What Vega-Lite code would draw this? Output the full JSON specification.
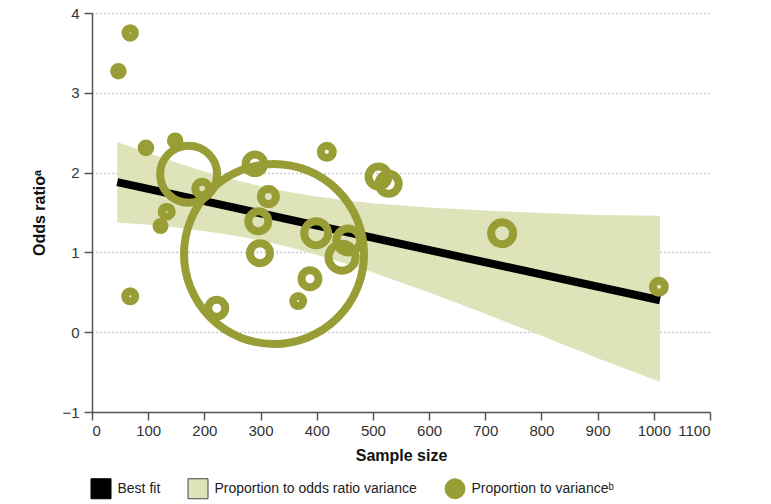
{
  "$schema": "https://vega.github.io/schema/vega-lite/v6.json",
  "width": 618,
  "height": 399,
  "autosize": "none",
  "padding": {"left": 92, "top": 13, "right": 61, "bottom": 92},
  "background": "white",
  "config": {
    "view": {"stroke": null},
    "font": "Liberation Sans",
    "axis": {
      "labelFont": "Liberation Sans",
      "labelFontSize": 15,
      "labelColor": "#333",
      "titleFont": "Liberation Sans",
      "titleFontSize": 16,
      "titleFontWeight": "bold",
      "titleColor": "#111",
      "domainColor": "#555",
      "domainWidth": 1.5,
      "tickColor": "#555",
      "tickWidth": 1.5,
      "tickSize": 8
    }
  },
  "datasets": {
    "band": [
      {"n": 45, "upper": 2.384, "lower": 1.376},
      {"n": 100, "upper": 2.245, "lower": 1.345},
      {"n": 150, "upper": 2.126, "lower": 1.311},
      {"n": 200, "upper": 2.015, "lower": 1.268},
      {"n": 250, "upper": 1.916, "lower": 1.214},
      {"n": 300, "upper": 1.83, "lower": 1.148},
      {"n": 350, "upper": 1.757, "lower": 1.067},
      {"n": 400, "upper": 1.7, "lower": 0.972},
      {"n": 450, "upper": 1.653, "lower": 0.865},
      {"n": 500, "upper": 1.617, "lower": 0.749},
      {"n": 600, "upper": 1.563, "lower": 0.497},
      {"n": 700, "upper": 1.524, "lower": 0.23},
      {"n": 800, "upper": 1.494, "lower": -0.046},
      {"n": 900, "upper": 1.47, "lower": -0.328},
      {"n": 1011, "upper": 1.46, "lower": -0.62}
    ],
    "fit": [
      {"n": 45, "or": 1.88},
      {"n": 1011, "or": 0.4}
    ],
    "studies": [
      {"n": 324, "or": 0.98, "weight": 81},
      {"n": 172, "or": 1.98, "weight": 8.12},
      {"n": 47, "or": 3.27, "weight": 0.185},
      {"n": 68, "or": 3.75, "weight": 0.22},
      {"n": 96, "or": 2.31, "weight": 0.185},
      {"n": 148, "or": 2.4, "weight": 0.18},
      {"n": 196, "or": 1.8, "weight": 0.46},
      {"n": 133, "or": 1.51, "weight": 0.25},
      {"n": 122, "or": 1.33, "weight": 0.16},
      {"n": 290, "or": 2.11, "weight": 0.86},
      {"n": 418, "or": 2.26, "weight": 0.36},
      {"n": 510, "or": 1.95, "weight": 1.0},
      {"n": 528, "or": 1.86, "weight": 1.0},
      {"n": 314, "or": 1.7, "weight": 0.56},
      {"n": 296, "or": 1.39, "weight": 1.0},
      {"n": 299, "or": 0.99, "weight": 1.0},
      {"n": 399, "or": 1.24, "weight": 1.44},
      {"n": 456, "or": 1.15, "weight": 1.44},
      {"n": 445, "or": 0.94, "weight": 1.82},
      {"n": 388, "or": 0.67, "weight": 0.72},
      {"n": 367, "or": 0.39, "weight": 0.25},
      {"n": 68, "or": 0.45, "weight": 0.25},
      {"n": 222, "or": 0.3, "weight": 0.72},
      {"n": 730, "or": 1.24, "weight": 1.21},
      {"n": 1009, "or": 0.57, "weight": 0.36}
    ]
  },
  "encoding": {
    "x": {
      "type": "quantitative",
      "scale": {"domain": [0, 1100], "nice": false},
      "axis": {
        "title": "Sample size",
        "format": "d",
        "values": [0, 100, 200, 300, 400, 500, 600, 700, 800, 900, 1000, 1100],
        "grid": false,
        "labelPadding": 3,
        "titlePadding": 9
      }
    },
    "y": {
      "type": "quantitative",
      "scale": {"domain": [-1, 4], "nice": false},
      "axis": {
        "title": "Odds ratioᵃ",
        "values": [-1, 0, 1, 2, 3, 4],
        "grid": true,
        "gridColor": "#b8b8b8",
        "gridWidth": 1.5,
        "gridDash": [1.5, 2.5],
        "labelPadding": 5,
        "titlePadding": 14
      }
    }
  },
  "layer": [
    {
      "data": {"name": "band"},
      "mark": {"type": "area", "color": "#dfe3ba", "opacity": 1},
      "encoding": {
        "x": {"field": "n", "type": "quantitative"},
        "y": {"field": "upper", "type": "quantitative"},
        "y2": {"field": "lower"}
      }
    },
    {
      "data": {"name": "fit"},
      "mark": {"type": "line", "color": "#000000", "strokeWidth": 8, "strokeCap": "butt"},
      "encoding": {
        "x": {"field": "n", "type": "quantitative"},
        "y": {"field": "or", "type": "quantitative"}
      }
    },
    {
      "data": {"name": "studies"},
      "mark": {"type": "point", "filled": false, "color": "#989e35", "strokeWidth": 8, "opacity": 1},
      "encoding": {
        "x": {"field": "n", "type": "quantitative"},
        "y": {"field": "or", "type": "quantitative"},
        "size": {
          "field": "weight",
          "type": "quantitative",
          "scale": {"type": "linear", "domain": [0, 100], "range": [0, 40000], "zero": true},
          "legend": null
        },
        "shape": {
          "datum": "Proportion to varianceᵇ",
          "type": "nominal",
          "scale": {
            "domain": ["Best fit", "Proportion to odds ratio variance", "Proportion to varianceᵇ"],
            "range": ["square", "square", "circle"]
          },
          "legend": {
            "title": null,
            "orient": "none",
            "direction": "horizontal",
            "legendX": -1.5,
            "legendY": 465,
            "padding": 0,
            "columnPadding": 25,
            "labelFont": "Liberation Sans",
            "labelFontSize": 14,
            "labelColor": "#222",
            "labelLimit": 400,
            "labelOffset": 6,
            "symbolSize": 400,
            "symbolStrokeWidth": 1,
            "encoding": {
              "symbols": {
                "shape": {"value": {"expr": "datum.value === 'Proportion to varianceᵇ' ? 'M-1,-1h0.001M1,1h-0.001M0,-0.6A0.6,0.6,0,1,1,0,0.6A0.6,0.6,0,1,1,0,-0.6ZM0,-0.2A0.2,0.2,0,1,0,0,0.2A0.2,0.2,0,1,0,0,-0.2Z' : datum.value === 'Best fit' ? 'M-1,-1h0.001M1,1h-0.001M-0.85,-0.45H0.85V0.45H-0.85Z' : 'M-1,-1h0.001M1,1h-0.001M-0.78,-0.42H0.78V0.42H-0.78Z'"}},
                "size": {"value": 400},
                "fill": {"value": {"expr": "datum.value === 'Best fit' ? '#000000' : datum.value === 'Proportion to varianceᵇ' ? '#989e35' : '#dfe3ba'"}},
                "fillOpacity": {"value": 1},
                "stroke": {"value": {"expr": "datum.value === 'Best fit' ? '#000000' : datum.value === 'Proportion to varianceᵇ' ? '#989e35' : '#444444'"}},
                "strokeWidth": {"value": 1},
                "opacity": {"value": 1}
              }
            }
          }
        }
      }
    }
  ]
}
